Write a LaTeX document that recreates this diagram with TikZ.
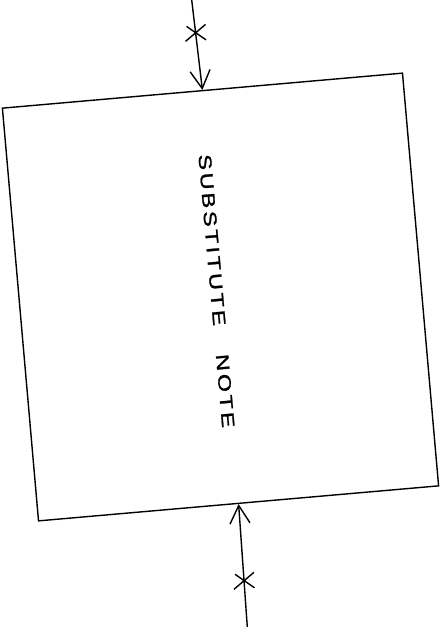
\documentclass[tikz,border=0pt]{standalone}
\usepackage{fontspec}
\usepackage{graphicx}
\usetikzlibrary{arrows.meta,calc}
\newfontfamily\plotfont[LetterSpace=12.5,FakeBold=1.2]{Liberation Sans}
\begin{document}
\begin{tikzpicture}[x=1pt,y=-1pt,
  ink/.style={line width=1.4pt,black},
  boxshape/.style={ink,draw,rectangle,rotate=5,minimum width=401.6pt,minimum height=414.3pt,inner sep=0pt},
  flow/.style={ink,-{Straight Barb[length=18pt,width=20pt,line width=1.4pt]}},
  label/.style={rotate=-85,inner sep=0pt,font=\plotfont\fontsize{18}{18}\selectfont},
  xmark/.pic={\draw[ink] (-10,9)--(10,-8) (-9,-6)--(10.5,7.5);}]
\useasboundingbox (0,0) rectangle (444,627);
\node[boxshape] (box) at (220.5,297) {};
\coordinate (topin) at (191.7,0);
\coordinate (botin) at (247.3,627);
\draw[flow] (topin) -- (box.north);
\draw[flow] (botin) -- (box.south);
\pic at ($(topin)!0.36!(box.north)$) {xmark};
\pic at ($(botin)!0.38!(box.south)$) {xmark};
\node[label] (note) at (216.5,291) {\scalebox{1.3}[1]{SUBSTITUTE\hspace{22pt}NOTE}};
\end{tikzpicture}
\end{document}
